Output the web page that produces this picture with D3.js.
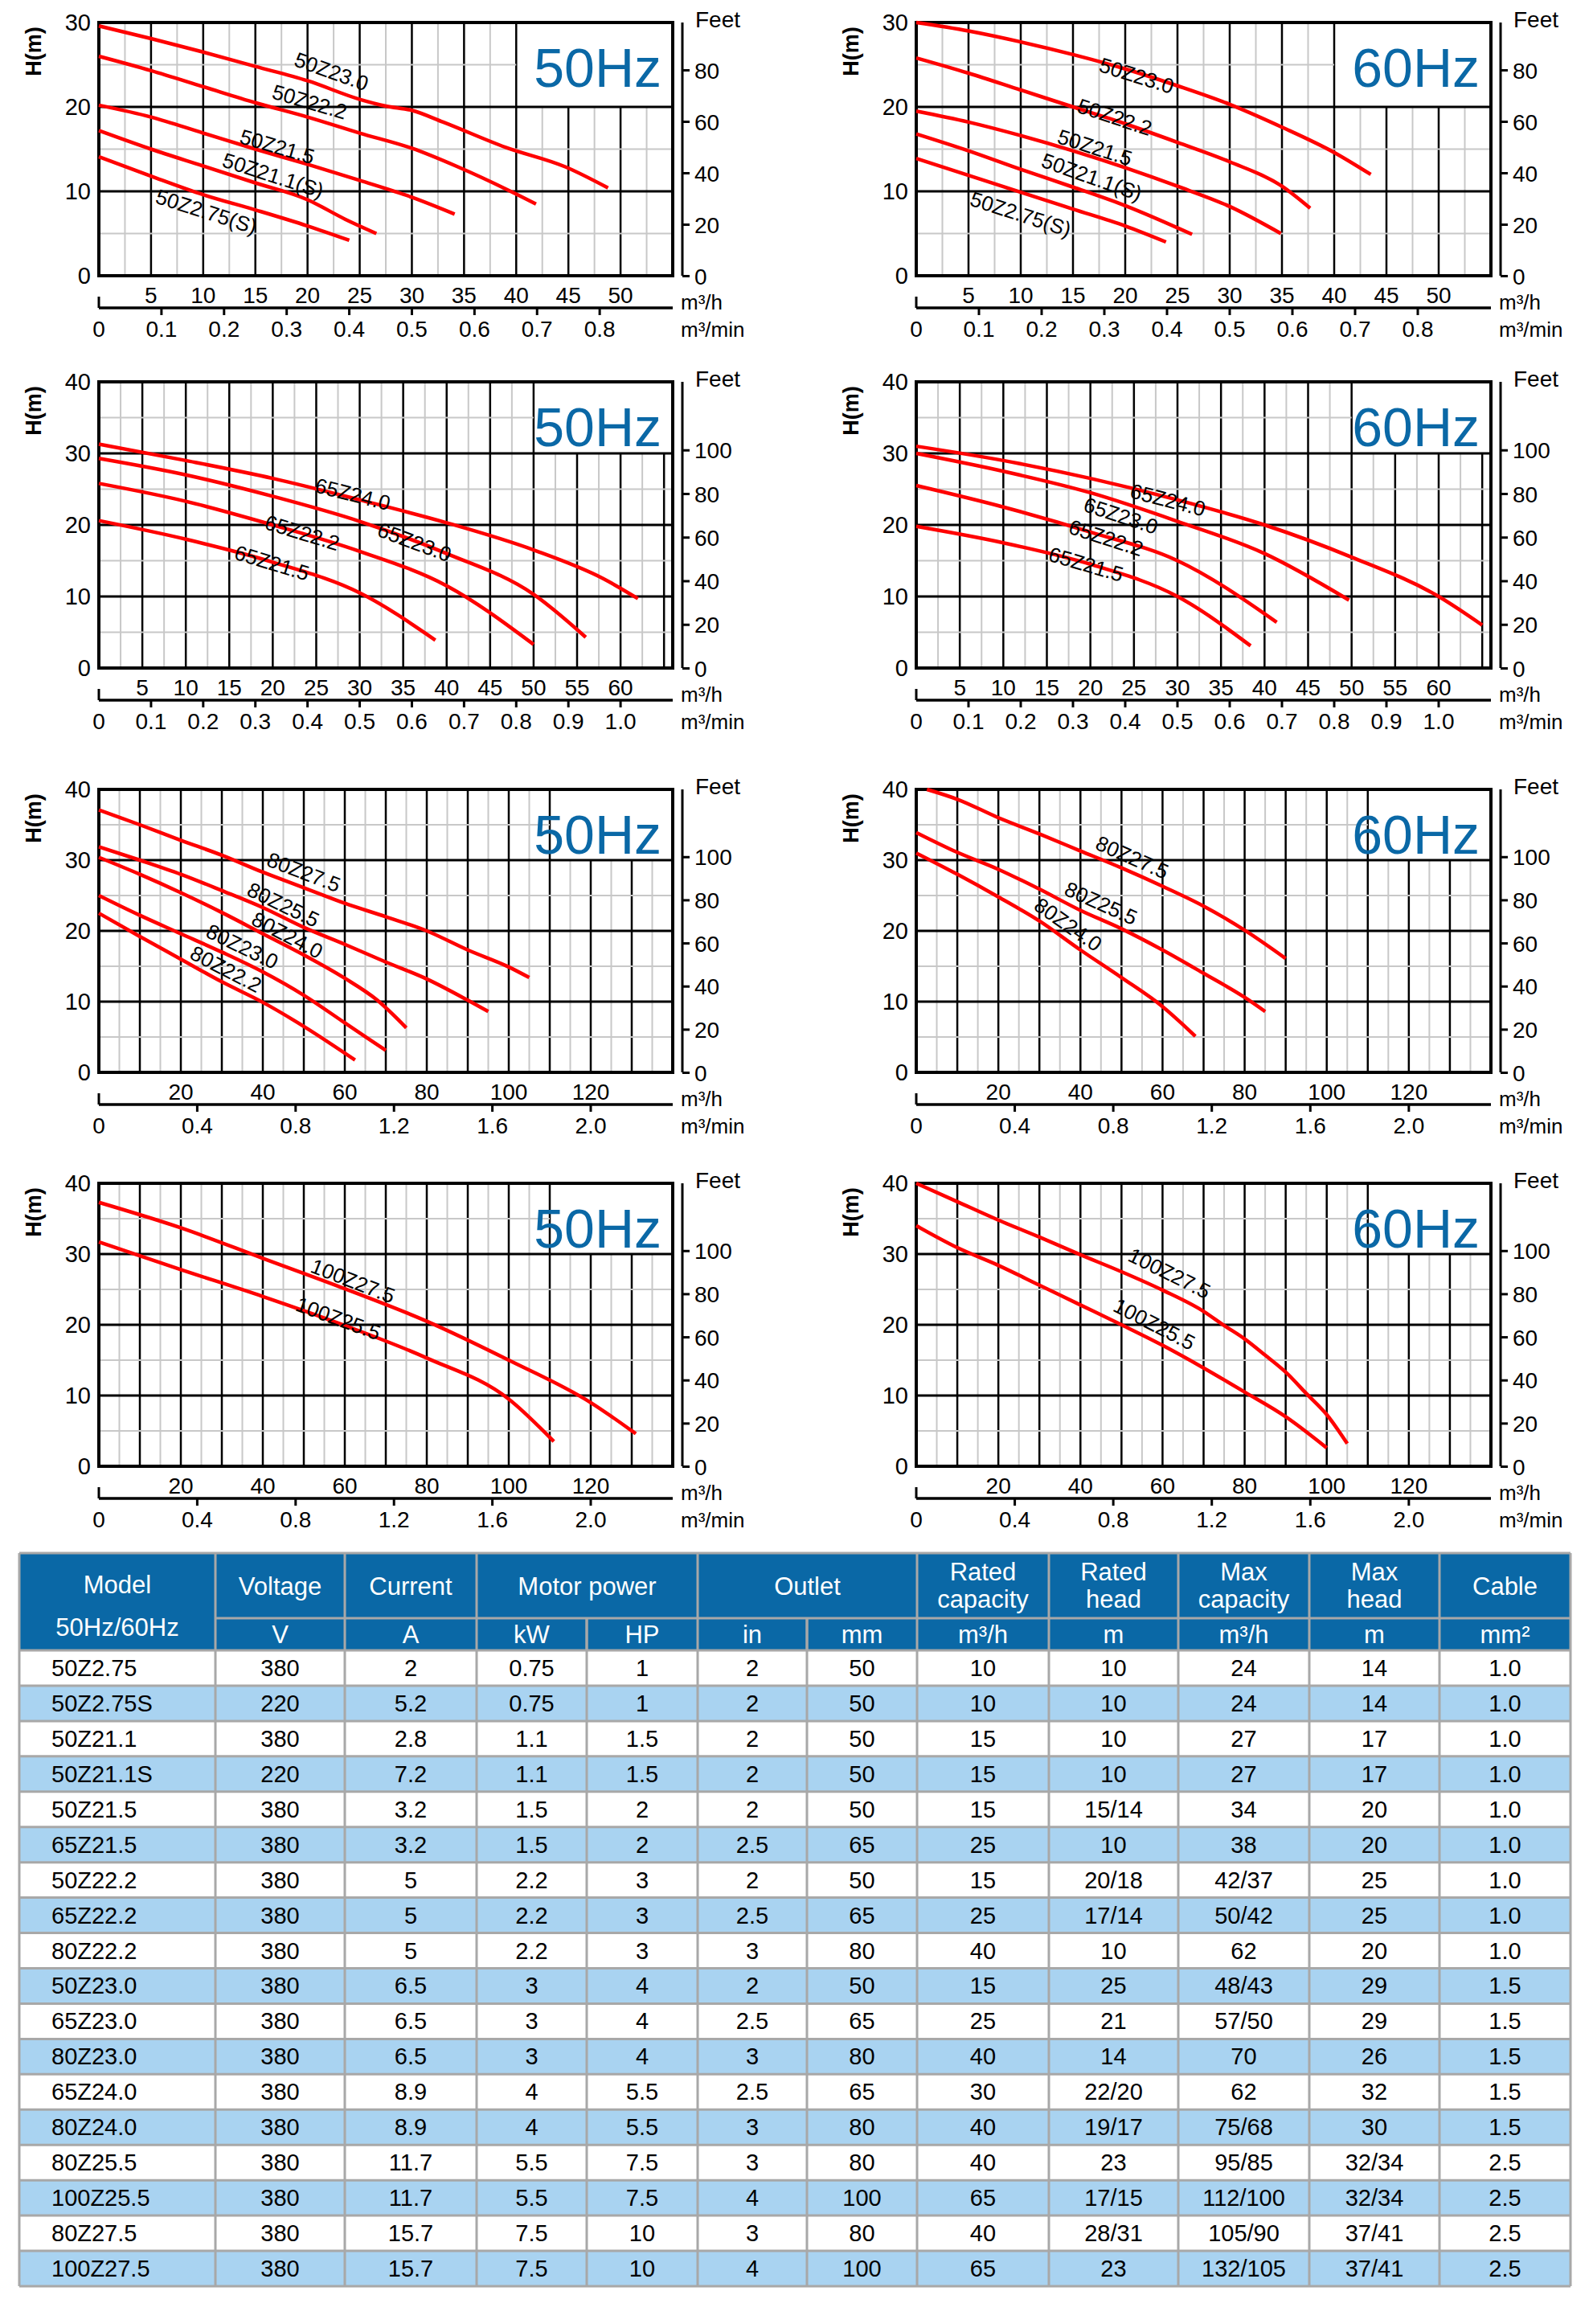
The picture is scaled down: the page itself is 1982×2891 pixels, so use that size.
<!DOCTYPE html>
<html>
<head>
<meta charset="utf-8">
<script src="https://cdn.jsdelivr.net/npm/d3@7"></script>
<style>
  body { margin: 0; background: #fff; }
  svg text { font-family: "Liberation Sans Narrow", "Arial Narrow", "Liberation Sans", Arial, sans-serif; }
</style>
</head>
<body>
<svg id="chart" width="1982" height="2891"></svg>
<script>
// ---------- curve data (flow m3/h, head m) ----------
// chart 1 : 50Z 50Hz
const names1 = ["50Z23.0", "50Z22.2", "50Z21.5", "50Z21.1(S)", "50Z2.75(S)"];
const flow1 = [[0, 5, 10, 15, 20, 25, 27.5, 30, 33, 39, 44.7, 48.8],
               [0, 5, 10, 15, 20, 25, 30, 34.4, 39.3, 41.9],
               [0, 5, 10, 15, 20, 25, 30, 34.1],
               [0, 5, 10, 15, 20, 23.6, 26.6],
               [0, 5, 10, 15, 20, 24]];
const head1 = [[29.6, 28.1, 26.5, 24.8, 23.1, 20.9, 20.1, 19.6, 18.2, 15.2, 12.9, 10.4],
               [26.0, 24.3, 22.4, 20.5, 18.8, 16.9, 15.1, 12.9, 10.1, 8.5],
               [20.2, 18.8, 16.9, 15.0, 13.2, 11.3, 9.3, 7.3],
               [17.2, 15.0, 13.0, 11.0, 9.0, 6.7, 5.0],
               [14.1, 11.8, 9.6, 7.8, 5.9, 4.2]];
const label1 = [[22.3, 24.2], [20.2, 20.6], [17.1, 15.3], [16.7, 11.9], [10.3, 7.6]];

// chart 2 : 50Z 60Hz
const names2 = names1;
const flow2 = [[0, 5, 10, 15, 20, 25, 30, 35, 40, 43.5],
               [0, 5, 10, 15, 20, 25, 30, 35, 37.7],
               [0, 5, 10, 15, 20, 25, 30, 34.9],
               [0, 5, 10, 15, 20, 26.4],
               [0, 5, 10, 15, 20, 23.9]];
const head2 = [[30, 29, 27.7, 26.2, 24.5, 22.5, 20.3, 17.6, 14.6, 12],
               [25.8, 24, 22, 20, 18, 15.8, 13.5, 10.6, 8],
               [19.5, 18.2, 16.6, 14.8, 12.8, 10.6, 8.2, 5],
               [16.8, 14.8, 12.6, 10.5, 8.3, 4.9],
               [13.9, 11.9, 9.9, 7.9, 5.9, 4.0]];
const label2 = [[21.1, 23.7], [19, 18.8], [17.1, 15.2], [16.8, 11.7], [10, 7.3]];

// chart 3 : 65Z 50Hz
const names3 = ["65Z24.0", "65Z23.0", "65Z22.2", "65Z21.5"];
const flow3 = [[0, 10, 20, 30, 40, 50, 58, 62],
               [0, 10, 20, 30, 40, 50, 56],
               [0, 10, 20, 30, 40, 50],
               [0, 10, 20, 30, 38.7]];
const head3 = [[31.3, 29, 26.5, 23.5, 20.3, 16.5, 12.5, 9.7],
               [29.3, 27, 24, 20.5, 16, 10.3, 4.3],
               [25.8, 23.3, 20, 16.3, 11.5, 3.3],
               [20.6, 18, 14.8, 10.5, 3.9]];
const label3 = [[29.2, 24.3], [36.3, 17.6], [23.4, 18.9], [19.9, 14.7]];

// chart 4 : 65Z 60Hz
const names4 = names3;
const flow4 = [[0, 10, 20, 30, 40, 50, 60, 65],
               [0, 10, 20, 30, 40, 49.7],
               [0, 10, 20, 30, 41.4],
               [0, 10, 20, 30, 38.4]];
const head4 = [[31, 29, 26.5, 23.5, 20, 15.5, 10, 6],
               [30, 27.5, 24.5, 20.5, 16, 9.5],
               [25.5, 22.5, 19, 15, 6.4],
               [19.8, 17.5, 14.5, 10, 3.1]];
const label4 = [[28.9, 23.5], [23.5, 21.3], [21.8, 18.2], [19.5, 14.5]];

// chart 5 : 80Z 50Hz
const names5 = ["80Z27.5", "80Z25.5", "80Z24.0", "80Z23.0", "80Z22.2"];
const flow5 = [[0, 10, 20, 30, 40, 50, 60, 70, 80, 90, 100, 105],
               [0, 10, 20, 30, 40, 50, 60, 70, 80, 90, 95],
               [0, 10, 20, 30, 40, 50, 60, 67.7, 75],
               [0, 10, 20, 30, 40, 50, 60, 70],
               [0, 10, 20, 30, 40, 50, 62.5]];
const head5 = [[37.1, 35, 32.8, 30.7, 28.3, 26.1, 23.9, 22, 20, 17.3, 14.9, 13.4],
               [31.9, 30, 28, 25.7, 23.3, 20.5, 18.1, 15.6, 13.2, 10.2, 8.6],
               [30.4, 28, 25.4, 22.6, 19.6, 16.6, 13.3, 10.3, 6.3],
               [25, 22.2, 19.6, 17, 14.2, 10.9, 7, 3.1],
               [22.5, 19.2, 16, 12.8, 9.9, 6.5, 1.75]];
const label5 = [[50, 28.3], [45, 23.7], [46, 19.4], [35, 17.8], [31, 14.6]];

// chart 6 : 80Z 60Hz
const names6 = ["80Z27.5", "80Z25.5", "80Z24.0"];
const flow6 = [[2.6, 10, 20, 30, 40, 50, 60, 70, 80, 90],
               [0, 10, 20, 30, 40, 50, 60, 70, 80, 85],
               [0, 10, 20, 30, 40, 50, 60, 68]];
const head6 = [[40, 38.6, 36, 33.7, 31.3, 28.9, 26.3, 23.5, 20.1, 16.1],
               [33.9, 31.1, 28.7, 25.9, 22.9, 20.3, 17.3, 14, 10.6, 8.6],
               [31, 28, 24.8, 21.4, 17.3, 13.4, 9.3, 5.1]];
const label6 = [[52.6, 30.4], [45, 23.9], [37, 20.9]];

// chart 7 : 100Z 50Hz
const names7 = ["100Z27.5", "100Z25.5"];
const flow7 = [[0, 20, 40, 60, 80, 100, 120, 131],
               [0, 20, 40, 60, 80, 100, 111]];
const head7 = [[37.3, 33.7, 29.4, 25.1, 20.5, 15, 9, 4.6],
               [31.7, 27.8, 24, 19.9, 15.3, 9.5, 3.5]];
const label7 = [[62, 26.2], [58.4, 20.9]];

// chart 8 : 100Z 60Hz
const names8 = ["100Z27.5", "100Z25.5"];
const flow8 = [[0, 10, 20, 30, 40, 50, 60, 70, 75, 80, 85, 90, 95, 100, 105],
               [0, 10, 20, 30, 40, 50, 60, 70, 80, 90, 100]];
const head8 = [[40, 37.4, 34.8, 32.4, 29.9, 27.5, 24.9, 21.9, 19.9, 18, 15.7, 13.3, 10.3, 7.3, 3.2],
               [34, 30.9, 28.4, 25.6, 22.8, 20, 17.1, 13.9, 10.5, 7, 2.6]];
const label8 = [[61.7, 27.3], [58, 20.1]];

// ---------- axis tick labels ----------
const flowTicksA = [5, 10, 15, 20, 25, 30, 35, 40, 45, 50];
const flowTicksB = [5, 10, 15, 20, 25, 30, 35, 40, 45, 50, 55, 60];
const flowTicksC = [20, 40, 60, 80, 100, 120];
const minTicksA = [0, 0.1, 0.2, 0.3, 0.4, 0.5, 0.6, 0.7, 0.8];
const minTicksB = [0, 0.1, 0.2, 0.3, 0.4, 0.5, 0.6, 0.7, 0.8, 0.9, 1.0];
const minTicksC = [0, 0.4, 0.8, 1.2, 1.6, 2.0];
const headTicks30 = [0, 10, 20, 30];
const headTicks40 = [0, 10, 20, 30, 40];
const feetTicks30 = [0, 20, 40, 60, 80];
const feetTicks40 = [0, 20, 40, 60, 80, 100];

// ---------- table ----------
const tableModels = ["50Z2.75", "50Z2.75S", "50Z21.1", "50Z21.1S", "50Z21.5", "65Z21.5", "50Z22.2", "65Z22.2", "80Z22.2",
  "50Z23.0", "65Z23.0", "80Z23.0", "65Z24.0", "80Z24.0", "80Z25.5", "100Z25.5", "80Z27.5", "100Z27.5"];
const tableVoltage = ["380", "220", "380", "220", "380", "380", "380", "380", "380", "380", "380", "380", "380", "380", "380", "380", "380", "380"];
const tableCurrent = ["2", "5.2", "2.8", "7.2", "3.2", "3.2", "5", "5", "5", "6.5", "6.5", "6.5", "8.9", "8.9", "11.7", "11.7", "15.7", "15.7"];
const tableKw = ["0.75", "0.75", "1.1", "1.1", "1.5", "1.5", "2.2", "2.2", "2.2", "3", "3", "3", "4", "4", "5.5", "5.5", "7.5", "7.5"];
const tableHp = ["1", "1", "1.5", "1.5", "2", "2", "3", "3", "3", "4", "4", "4", "5.5", "5.5", "7.5", "7.5", "10", "10"];
const tableIn = ["2", "2", "2", "2", "2", "2.5", "2", "2.5", "3", "2", "2.5", "3", "2.5", "3", "3", "4", "3", "4"];
const tableMm = ["50", "50", "50", "50", "50", "65", "50", "65", "80", "50", "65", "80", "65", "80", "80", "100", "80", "100"];
const tableRatedCap = ["10", "10", "15", "15", "15", "25", "15", "25", "40", "15", "25", "40", "30", "40", "40", "65", "40", "65"];
const tableRatedHead = ["10", "10", "10", "10", "15/14", "10", "20/18", "17/14", "10", "25", "21", "14", "22/20", "19/17", "23", "17/15", "28/31", "23"];
const tableMaxCap = ["24", "24", "27", "27", "34", "38", "42/37", "50/42", "62", "48/43", "57/50", "70", "62", "75/68", "95/85", "112/100", "105/90", "132/105"];
const tableMaxHead = ["14", "14", "17", "17", "20", "20", "25", "25", "20", "29", "29", "26", "32", "30", "32/34", "32/34", "37/41", "37/41"];
const tableCable = ["1.0", "1.0", "1.0", "1.0", "1.0", "1.0", "1.0", "1.0", "1.0", "1.5", "1.5", "1.5", "1.5", "1.5", "2.5", "2.5", "2.5", "2.5"];

const svg = d3.select("#chart");
const RED = "#ff0000", BLUE = "#0a68a6";

function drawChart(o) {
  var g = svg.append("g");
  var x = d3.scaleLinear().domain([0, o.xMax]).range([o.x0, o.x1]);
  var y = d3.scaleLinear().domain([0, o.yMax]).range([o.bottom, o.top]);
  var inBox = function (q, h) { return q > o.boxQ && h > o.boxH; };

  // minor grid
  for (var q = o.minorQ; q < o.xMax; q += o.minorQ) {
    var major = Math.abs(q / o.majorQ - Math.round(q / o.majorQ)) < 1e-6;
    var topH = (q > o.boxQ) ? o.boxH : o.yMax;
    g.append("line").attr("x1", x(q)).attr("x2", x(q)).attr("y1", y(0)).attr("y2", y(topH))
      .attr("stroke", major ? "#000" : "#c8c8c8").attr("stroke-width", major ? 2.5 : 2);
  }
  for (var h = 5; h < o.yMax; h += 5) {
    var majorH = h % 10 === 0;
    var right = (h > o.boxH) ? x(o.boxQ) : o.x1;
    g.append("line").attr("x1", o.x0).attr("x2", majorH ? o.x1 : right).attr("y1", y(h)).attr("y2", y(h))
      .attr("stroke", majorH ? "#000" : "#c8c8c8").attr("stroke-width", majorH ? 3 : 2);
  }
  g.append("rect").attr("x", o.x0).attr("y", o.top).attr("width", o.x1 - o.x0).attr("height", o.bottom - o.top)
    .attr("fill", "none").attr("stroke", "#000").attr("stroke-width", 4);

  // head axis labels
  g.selectAll(".ht").data(o.headTicks).enter().append("text")
    .attr("x", o.x0 - 10).attr("y", function (d) { return y(d) + 10; })
    .attr("text-anchor", "end").attr("font-size", 29).text(function (d) { return d; });
  g.append("text").attr("transform", "translate(" + (o.x0 - 72) + "," + (o.top + 36) + ") rotate(-90)")
    .attr("text-anchor", "middle").attr("font-size", 27).attr("font-weight", "bold")
    .attr("font-family", "Liberation Sans, Arial").text("H(m)");

  // feet axis
  var yf = d3.scaleLinear().domain([0, o.yMax * 3.2808]).range([o.bottom, o.top]);
  var fx = o.x1 + 12;
  g.append("g").attr("transform", "translate(" + fx + ",0)")
    .call(d3.axisRight(yf).tickValues(o.feetTicks).tickSize(9).tickPadding(6))
    .call(function (a) {
      a.select(".domain").attr("stroke-width", 3).attr("d", "M0," + o.top + "V" + o.bottom);
      a.selectAll("line").attr("stroke-width", 3);
      a.selectAll("text").attr("font-size", 28).attr("dy", "0.36em")
        .attr("font-family", "Liberation Sans Narrow, Arial Narrow, Liberation Sans, Arial");
    });
  g.append("text").attr("x", fx + 16).attr("y", o.top + 6).attr("font-size", 28).text("Feet");

  // flow axis labels (m3/h)
  g.selectAll(".ft").data(o.flowTicks).enter().append("text")
    .attr("x", function (d) { return x(d); }).attr("y", o.bottom + 34)
    .attr("text-anchor", "middle").attr("font-size", 28).text(function (d) { return d; });
  g.append("text").attr("x", o.x1 + 10).attr("y", o.bottom + 42).attr("font-size", 26).text("m³/h");

  // m3/min axis
  var xm = d3.scaleLinear().domain([0, o.xMax / 60]).range([o.x0, o.x1]);
  var ly = o.bottom + 40;
  g.append("line").attr("x1", o.x0).attr("x2", o.x1).attr("y1", ly).attr("y2", ly).attr("stroke", "#000").attr("stroke-width", 3.5);
  g.append("line").attr("x1", o.x0).attr("x2", o.x0).attr("y1", ly - 14).attr("y2", ly).attr("stroke", "#000").attr("stroke-width", 3);
  g.selectAll(".mt").data(o.minTicks.filter(function (d) { return d > 0; })).enter().append("line")
    .attr("x1", function (d) { return xm(d); }).attr("x2", function (d) { return xm(d); })
    .attr("y1", ly).attr("y2", ly + 9).attr("stroke", "#000").attr("stroke-width", 3);
  g.selectAll(".ml").data(o.minTicks).enter().append("text")
    .attr("x", function (d) { return xm(d); }).attr("y", ly + 36)
    .attr("text-anchor", "middle").attr("font-size", 28).text(function (d) { return d === 0 ? "0" : d.toFixed(1); });
  g.append("text").attr("x", o.x1 + 10).attr("y", ly + 36).attr("font-size", 26).text("m³/min");

  // Hz label
  g.append("text").attr("x", o.x1 - 14).attr("y", o.top + 80).attr("text-anchor", "end")
    .attr("font-size", 68).attr("fill", BLUE).attr("font-family", "Liberation Sans, Arial").text(o.hz);

  // curves
  var line = d3.line().x(function (d) { return x(d[0]); }).y(function (d) { return y(d[1]); }).curve(d3.curveMonotoneX);
  o.names.forEach(function (name, i) {
    var pts = o.flow[i].map(function (q, k) { return [q, o.head[i][k]]; });
    g.append("path").attr("d", line(pts)).attr("fill", "none").attr("stroke", RED).attr("stroke-width", 4.5);
    // label angle from curve slope near label
    var lq = o.labels[i][0], lh = o.labels[i][1];
    var hAt = function (qq) {
      var fl = o.flow[i], hd = o.head[i];
      for (var k = 1; k < fl.length; k++) {
        if (qq <= fl[k]) return hd[k - 1] + (hd[k] - hd[k - 1]) * (qq - fl[k - 1]) / (fl[k] - fl[k - 1]);
      }
      return hd[hd.length - 1];
    };
    var dq = o.xMax / 30;
    var ang = Math.atan2(y(hAt(lq + dq)) - y(hAt(lq - dq)), x(lq + dq) - x(lq - dq)) * 180 / Math.PI;
    g.append("text").attr("transform", "translate(" + x(lq) + "," + y(lh) + ") rotate(" + ang + ")")
      .attr("text-anchor", "middle").attr("dy", "0.35em").attr("font-size", 26).text(name);
  });
}

var L = { x0: 123, x1: 837 }, R = { x0: 1140, x1: 1855 };
var rows = [{ top: 28, bottom: 343 }, { top: 475, bottom: 831 }, { top: 982, bottom: 1334 }, { top: 1472, bottom: 1824 }];
var rowCfg = [
  { xMax: 55, yMax: 30, minorQ: 2.5, majorQ: 5, boxQ: 40, boxH: 20, flowTicks: flowTicksA, minTicks: minTicksA, headTicks: headTicks30, feetTicks: feetTicks30 },
  { xMax: 66, yMax: 40, minorQ: 2.5, majorQ: 5, boxQ: 50, boxH: 30, flowTicks: flowTicksB, minTicks: minTicksB, headTicks: headTicks40, feetTicks: feetTicks40 },
  { xMax: 140, yMax: 40, minorQ: 5, majorQ: 10, boxQ: 110, boxH: 30, flowTicks: flowTicksC, minTicks: minTicksC, headTicks: headTicks40, feetTicks: feetTicks40 },
  { xMax: 140, yMax: 40, minorQ: 5, majorQ: 10, boxQ: 110, boxH: 30, flowTicks: flowTicksC, minTicks: minTicksC, headTicks: headTicks40, feetTicks: feetTicks40 }
];
var series = [
  [names1, flow1, head1, label1], [names2, flow2, head2, label2],
  [names3, flow3, head3, label3], [names4, flow4, head4, label4],
  [names5, flow5, head5, label5], [names6, flow6, head6, label6],
  [names7, flow7, head7, label7], [names8, flow8, head8, label8]
];
rows.forEach(function (r, ri) {
  [L, R].forEach(function (side, si) {
    var s = series[ri * 2 + si];
    drawChart(Object.assign({}, rowCfg[ri], r, side, {
      hz: si === 0 ? "50Hz" : "60Hz", names: s[0], flow: s[1], head: s[2], labels: s[3]
    }));
  });
});

// ---------- table ----------
var colX = [24, 268, 429, 593, 730, 868, 1004, 1141, 1305, 1466, 1629, 1791, 1954];
var hTop = 1932, hMid = 2013, hBot = 2053, rowH = (2844 - hBot) / tableModels.length;
var tg = svg.append("g");
tg.append("rect").attr("x", colX[0]).attr("y", hTop).attr("width", colX[12] - colX[0]).attr("height", hBot - hTop).attr("fill", BLUE);
tableModels.forEach(function (m, i) {
  tg.append("rect").attr("x", colX[0]).attr("y", hBot + i * rowH).attr("width", colX[12] - colX[0]).attr("height", rowH)
    .attr("fill", i % 2 ? "#a9d3f1" : "#fff");
});
var gridC = "#a8a8a8";
// header cell lines
var topHeads = [[0, 1, ["Model", "50Hz/60Hz"]], [1, 2, ["Voltage"]], [2, 3, ["Current"]], [3, 5, ["Motor power"]], [5, 7, ["Outlet"]],
  [7, 8, ["Rated", "capacity"]], [8, 9, ["Rated", "head"]], [9, 10, ["Max", "capacity"]], [10, 11, ["Max", "head"]], [11, 12, ["Cable"]]];
var units = ["V", "A", "kW", "HP", "in", "mm", "m³/h", "m", "m³/h", "m", "mm²"];
topHeads.forEach(function (hd, k) {
  var cx = (colX[hd[0]] + colX[hd[1]]) / 2;
  if (k === 0) {
    tg.append("text").attr("x", cx).attr("y", hTop + 50).attr("text-anchor", "middle").attr("fill", "#fff").attr("font-size", 31).text(hd[2][0]);
    tg.append("text").attr("x", cx).attr("y", hTop + 103).attr("text-anchor", "middle").attr("fill", "#fff").attr("font-size", 31).text(hd[2][1]);
  } else if (hd[2].length === 1) {
    tg.append("text").attr("x", cx).attr("y", hTop + 52).attr("text-anchor", "middle").attr("fill", "#fff").attr("font-size", 31).text(hd[2][0]);
  } else {
    tg.append("text").attr("x", cx).attr("y", hTop + 34).attr("text-anchor", "middle").attr("fill", "#fff").attr("font-size", 31).text(hd[2][0]);
    tg.append("text").attr("x", cx).attr("y", hTop + 68).attr("text-anchor", "middle").attr("fill", "#fff").attr("font-size", 31).text(hd[2][1]);
  }
});
units.forEach(function (u, k) {
  tg.append("text").attr("x", (colX[k + 1] + colX[k + 2]) / 2).attr("y", hBot - 9).attr("text-anchor", "middle")
    .attr("fill", "#fff").attr("font-size", 31).text(u);
});
// grid lines
tg.append("line").attr("x1", colX[1]).attr("x2", colX[12]).attr("y1", hMid).attr("y2", hMid).attr("stroke", gridC).attr("stroke-width", 3);
[3, 5].forEach(function (c) {
  tg.append("line").attr("x1", colX[c + 1]).attr("x2", colX[c + 1]).attr("y1", hMid).attr("y2", hBot).attr("stroke", gridC).attr("stroke-width", 3);
});
colX.forEach(function (cx, c) {
  if (c === 4 || c === 6) {
    tg.append("line").attr("x1", cx).attr("x2", cx).attr("y1", hMid).attr("y2", 2844).attr("stroke", gridC).attr("stroke-width", 3);
  } else {
    tg.append("line").attr("x1", cx).attr("x2", cx).attr("y1", hTop).attr("y2", 2844).attr("stroke", gridC).attr("stroke-width", 3);
  }
});
for (var r = 0; r <= tableModels.length; r++) {
  tg.append("line").attr("x1", colX[0]).attr("x2", colX[12]).attr("y1", hBot + r * rowH).attr("y2", hBot + r * rowH).attr("stroke", gridC).attr("stroke-width", 3);
}
tg.append("line").attr("x1", colX[0]).attr("x2", colX[12]).attr("y1", hTop).attr("y2", hTop).attr("stroke", gridC).attr("stroke-width", 3);
var cols = [tableVoltage, tableCurrent, tableKw, tableHp, tableIn, tableMm, tableRatedCap, tableRatedHead, tableMaxCap, tableMaxHead, tableCable];
tableModels.forEach(function (m, i) {
  var ty = hBot + i * rowH + rowH / 2 + 10;
  tg.append("text").attr("x", 64).attr("y", ty).attr("font-size", 29).text(m);
  cols.forEach(function (col, k) {
    tg.append("text").attr("x", (colX[k + 1] + colX[k + 2]) / 2).attr("y", ty).attr("text-anchor", "middle").attr("font-size", 29).text(col[i]);
  });
});
</script>
</body>
</html>
